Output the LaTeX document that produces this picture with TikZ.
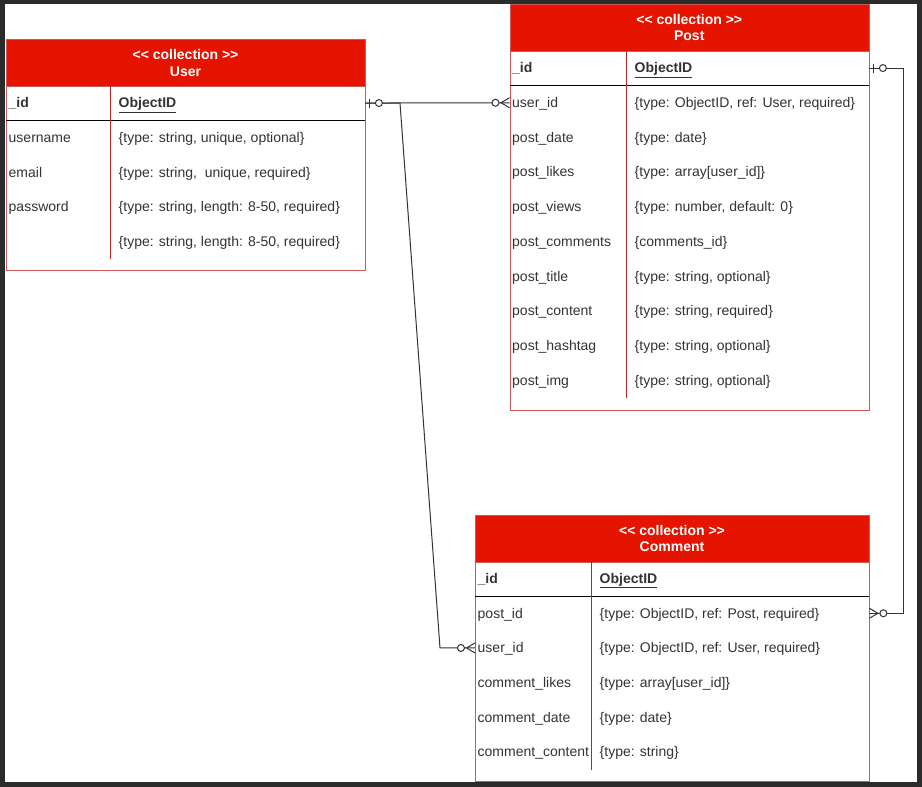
\documentclass[tikz,border=0pt]{standalone}
\usepackage{fontspec}
\setmainfont{Liberation Sans}
\usetikzlibrary{calc}
\definecolor{framedark}{HTML}{2B2B2B}
\definecolor{hdrred}{HTML}{E51400}
\definecolor{edgered}{HTML}{D05858}
\definecolor{divred}{HTML}{C42020}
\definecolor{txt}{HTML}{333333}
\definecolor{conncol}{HTML}{333333}
\tikzset{
  tablebox/.style={rectangle, draw=edgered, fill=white, line width=1pt, inner sep=0pt, anchor=north west},
  hdrbox/.style={rectangle, draw=edgered, fill=hdrred, line width=1pt, inner sep=0pt, anchor=north west, minimum height=47pt},
  hdrtext/.style={anchor=base, inner sep=0pt, text=white, font=\fontsize{14}{16}\selectfont\bfseries},
  rowbox/.style={rectangle, inner sep=0pt, minimum height=34.7pt, anchor=north west},
  celltext/.style={anchor=base west, inner sep=2pt, text=txt, font=\fontsize{14}{16}\selectfont},
  divline/.style={draw=divred, line width=1pt},
  keyline/.style={draw=black, line width=1pt},
  conn/.style={draw=conncol, line width=1pt},
}
% name, left x, top y, width, divider x, label, value
\newcommand\erow[7]{%
  \node[rowbox, minimum width=#4] (#1) at (#2,#3) {};
  \node[celltext] (#1l) at ({#2+0.5},{#3+22.35}) {#6};
  \node[celltext] (#1v) at ({#5+6.5},{#3+22.35}) {#7};
}
\newcommand\lt{<\kern0pt<}
\newcommand\gt{>\kern0pt>}
\begin{document}
\begin{tikzpicture}[x=1pt,y=-1pt]
\useasboundingbox (0,0) rectangle (922,787);
\fill[framedark] (0,0) rectangle (922,787);
\fill[white] (5,3.5) rectangle (916.5,781.5);

% ---------------- User ----------------
\node[tablebox, minimum width=359pt, minimum height=231pt] (user) at (6,39) {};
\node[hdrbox, minimum width=359pt] (userh) at (6,39) {};
\node[hdrtext] (userh1) at (185.5,59.5) {\lt{} collection \gt};
\node[hdrtext] (userh2) at (185.5,76) {User};
\erow{u0}{6}{85.5}{359}{110}{\textbf{\_id}}{\underline{\textbf{ObjectID}}}
\erow{u1}{6}{120.2}{359}{110}{username}{\{type: string, unique, optional\}}
\erow{u2}{6}{154.9}{359}{110}{email}{\{type: string,\ \ unique, required\}}
\erow{u3}{6}{189.6}{359}{110}{password}{\{type: string, length: 8-50, required\}}
\erow{u4}{6}{224.3}{359}{110}{}{\{type: string, length: 8-50, required\}}
\coordinate (udiv) at (110,0);
\draw[keyline] (u0.south west) -- (u0.south east);
\draw[divline] (u0.north -| udiv) -- (u4.south -| udiv);

% ---------------- Post ----------------
\node[tablebox, minimum width=359.5pt, minimum height=406pt] (post) at (509.5,4) {};
\node[hdrbox, minimum width=359.5pt] (posth) at (509.5,4) {};
\node[hdrtext] (posth1) at (689.25,24.5) {\lt{} collection \gt};
\node[hdrtext] (posth2) at (689.25,41) {Post};
\erow{p0}{509.5}{50.5}{359.5}{626}{\textbf{\_id}}{\underline{\textbf{ObjectID}}}
\erow{p1}{509.5}{85.2}{359.5}{626}{user\_id}{\{type: ObjectID, ref: User, required\}}
\erow{p2}{509.5}{119.9}{359.5}{626}{post\_date}{\{type: date\}}
\erow{p3}{509.5}{154.6}{359.5}{626}{post\_likes}{\{type: array[user\_id]\}}
\erow{p4}{509.5}{189.3}{359.5}{626}{post\_views}{\{type: number, default: 0\}}
\erow{p5}{509.5}{224.0}{359.5}{626}{post\_comments}{\{comments\_id\}}
\erow{p6}{509.5}{258.7}{359.5}{626}{post\_title}{\{type: string, optional\}}
\erow{p7}{509.5}{293.4}{359.5}{626}{post\_content}{\{type: string, required\}}
\erow{p8}{509.5}{328.1}{359.5}{626}{post\_hashtag}{\{type: string, optional\}}
\erow{p9}{509.5}{362.8}{359.5}{626}{post\_img}{\{type: string, optional\}}
\coordinate (pdiv) at (626,0);
\draw[keyline] (p0.south west) -- (p0.south east);
\draw[divline] (p0.north -| pdiv) -- (p9.south -| pdiv);

% ---------------- Comment ----------------
\node[tablebox, minimum width=394pt, minimum height=266pt] (comment) at (475,514.5) {};
\node[hdrbox, minimum width=394pt] (commenth) at (475,514.5) {};
\node[hdrtext] (commenth1) at (672,535) {\lt{} collection \gt};
\node[hdrtext] (commenth2) at (672,551.5) {Comment};
\erow{c00}{475}{561}{394}{591}{\textbf{\_id}}{\underline{\textbf{ObjectID}}}
\erow{c0}{475}{595.7}{394}{591}{post\_id}{\{type: ObjectID, ref: Post, required\}}
\erow{c1}{475}{630.4}{394}{591}{user\_id}{\{type: ObjectID, ref: User, required\}}
\erow{c2}{475}{665.1}{394}{591}{comment\_likes}{\{type: array[user\_id]\}}
\erow{c3}{475}{699.8}{394}{591}{comment\_date}{\{type: date\}}
\erow{c4}{475}{734.5}{394}{591}{comment\_content}{\{type: string\}}
\coordinate (cdiv) at (591,0);
\draw[keyline] (c00.south west) -- (c00.south east);
\draw[divline] (c00.north -| cdiv) -- (c4.south -| cdiv);

% ---------------- Connectors ----------------
\coordinate (b1) at (400,0);
\coordinate (b2) at (440,0);
\coordinate (b3) at (903.5,0);
% User._id -> Post.user_id
\draw[conn] (u0.east) -- (p1.west);
% User._id -> Comment.user_id
\draw[conn] (u0.east) -- (u0.east -| b1) -- (c1.west -| b2) -- (c1.west);
% Post._id -> Comment.post_id
\draw[conn] (p0.east) -- (p0.east -| b3) -- (c0.east -| b3) -- (c0.east);

% zero-or-one markers
\draw[conn] ([xshift=4pt,yshift=4.5pt]u0.east) -- ([xshift=4pt,yshift=-4.5pt]u0.east);
\draw[conn, fill=white] ([xshift=13.5pt]u0.east) circle[radius=3.5pt];
\draw[conn] ([xshift=4pt,yshift=4.5pt]p0.east) -- ([xshift=4pt,yshift=-4.5pt]p0.east);
\draw[conn, fill=white] ([xshift=13.5pt]p0.east) circle[radius=3.5pt];

% zero-or-many markers
\draw[conn] ([yshift=5pt]p1.west) -- ([xshift=-8.5pt]p1.west) -- ([yshift=-5pt]p1.west);
\draw[conn, fill=white] ([xshift=-14pt]p1.west) circle[radius=3.5pt];
\draw[conn] ([yshift=5pt]c1.west) -- ([xshift=-8.5pt]c1.west) -- ([yshift=-5pt]c1.west);
\draw[conn, fill=white] ([xshift=-14pt]c1.west) circle[radius=3.5pt];
\draw[conn] ([yshift=5pt]c0.east) -- ([xshift=8.5pt]c0.east) -- ([yshift=-5pt]c0.east);
\draw[conn, fill=white] ([xshift=14pt]c0.east) circle[radius=3.5pt];
\end{tikzpicture}
\end{document}
